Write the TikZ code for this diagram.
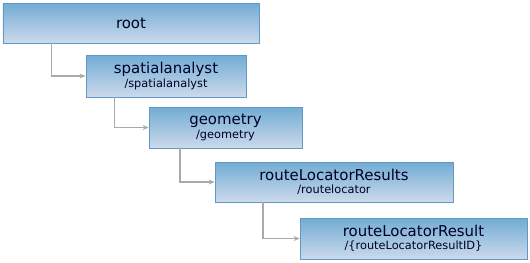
\documentclass[tikz,border=0pt]{standalone}
\usepackage{fontspec}
\setmainfont{DejaVu Sans}
\usetikzlibrary{arrows.meta}
\definecolor{boxtop}{RGB}{114,172,212}
\definecolor{boxbot}{RGB}{204,218,236}
\definecolor{boxline}{RGB}{98,152,198}
\definecolor{connc}{RGB}{170,170,170}
\tikzset{
  boxnode/.style={draw=boxline, line width=0.8bp, top color=boxtop, bottom color=boxbot,
    inner sep=0pt, align=center, text=black!85!blue},
  conn/.style={draw=connc, line width=1.3bp, -{Stealth[length=6bp,width=5bp]}},
}
\newcommand{\mainline}[1]{{\fontsize{15}{15}\selectfont #1}}
\newcommand{\subline}[1]{{\fontsize{11.4}{11}\selectfont #1}}
\begin{document}
\begin{tikzpicture}[x=1bp,y=-1bp]
\useasboundingbox (0,0) rectangle (530,262);
\fill[white] (0,0) rectangle (530,262);
\node[boxnode, minimum width=256bp, minimum height=40bp] (root) at (131,23) {\mainline{root}};
\node[boxnode, minimum width=160bp, minimum height=42bp] (spatial) at (166,76) {\mainline{spatialanalyst}\\[1.5bp]\subline{/spatialanalyst}};
\node[boxnode, minimum width=153bp, minimum height=41bp] (geom) at (225.5,127.5) {\mainline{geometry}\\[1.5bp]\subline{/geometry}};
\node[boxnode, minimum width=238bp, minimum height=40bp] (rlrs) at (334,182) {\mainline{routeLocatorResults}\\[1.5bp]\subline{/routelocator}};
\node[boxnode, minimum width=227bp, minimum height=41bp] (rlr) at (413.5,238.5) {\mainline{routeLocatorResult}\\[1.5bp]\subline{/\{routeLocatorResultID\}}};
\draw[conn] ([xshift=49bp]root.south west) |- (spatial.west);
\draw[conn] ([xshift=29bp]spatial.south west) |- (geom.west);
\draw[conn] ([xshift=31.5bp]geom.south west) |- (rlrs.west);
\draw[conn] ([xshift=48.5bp]rlrs.south west) |- (rlr.west);
\end{tikzpicture}
\end{document}
